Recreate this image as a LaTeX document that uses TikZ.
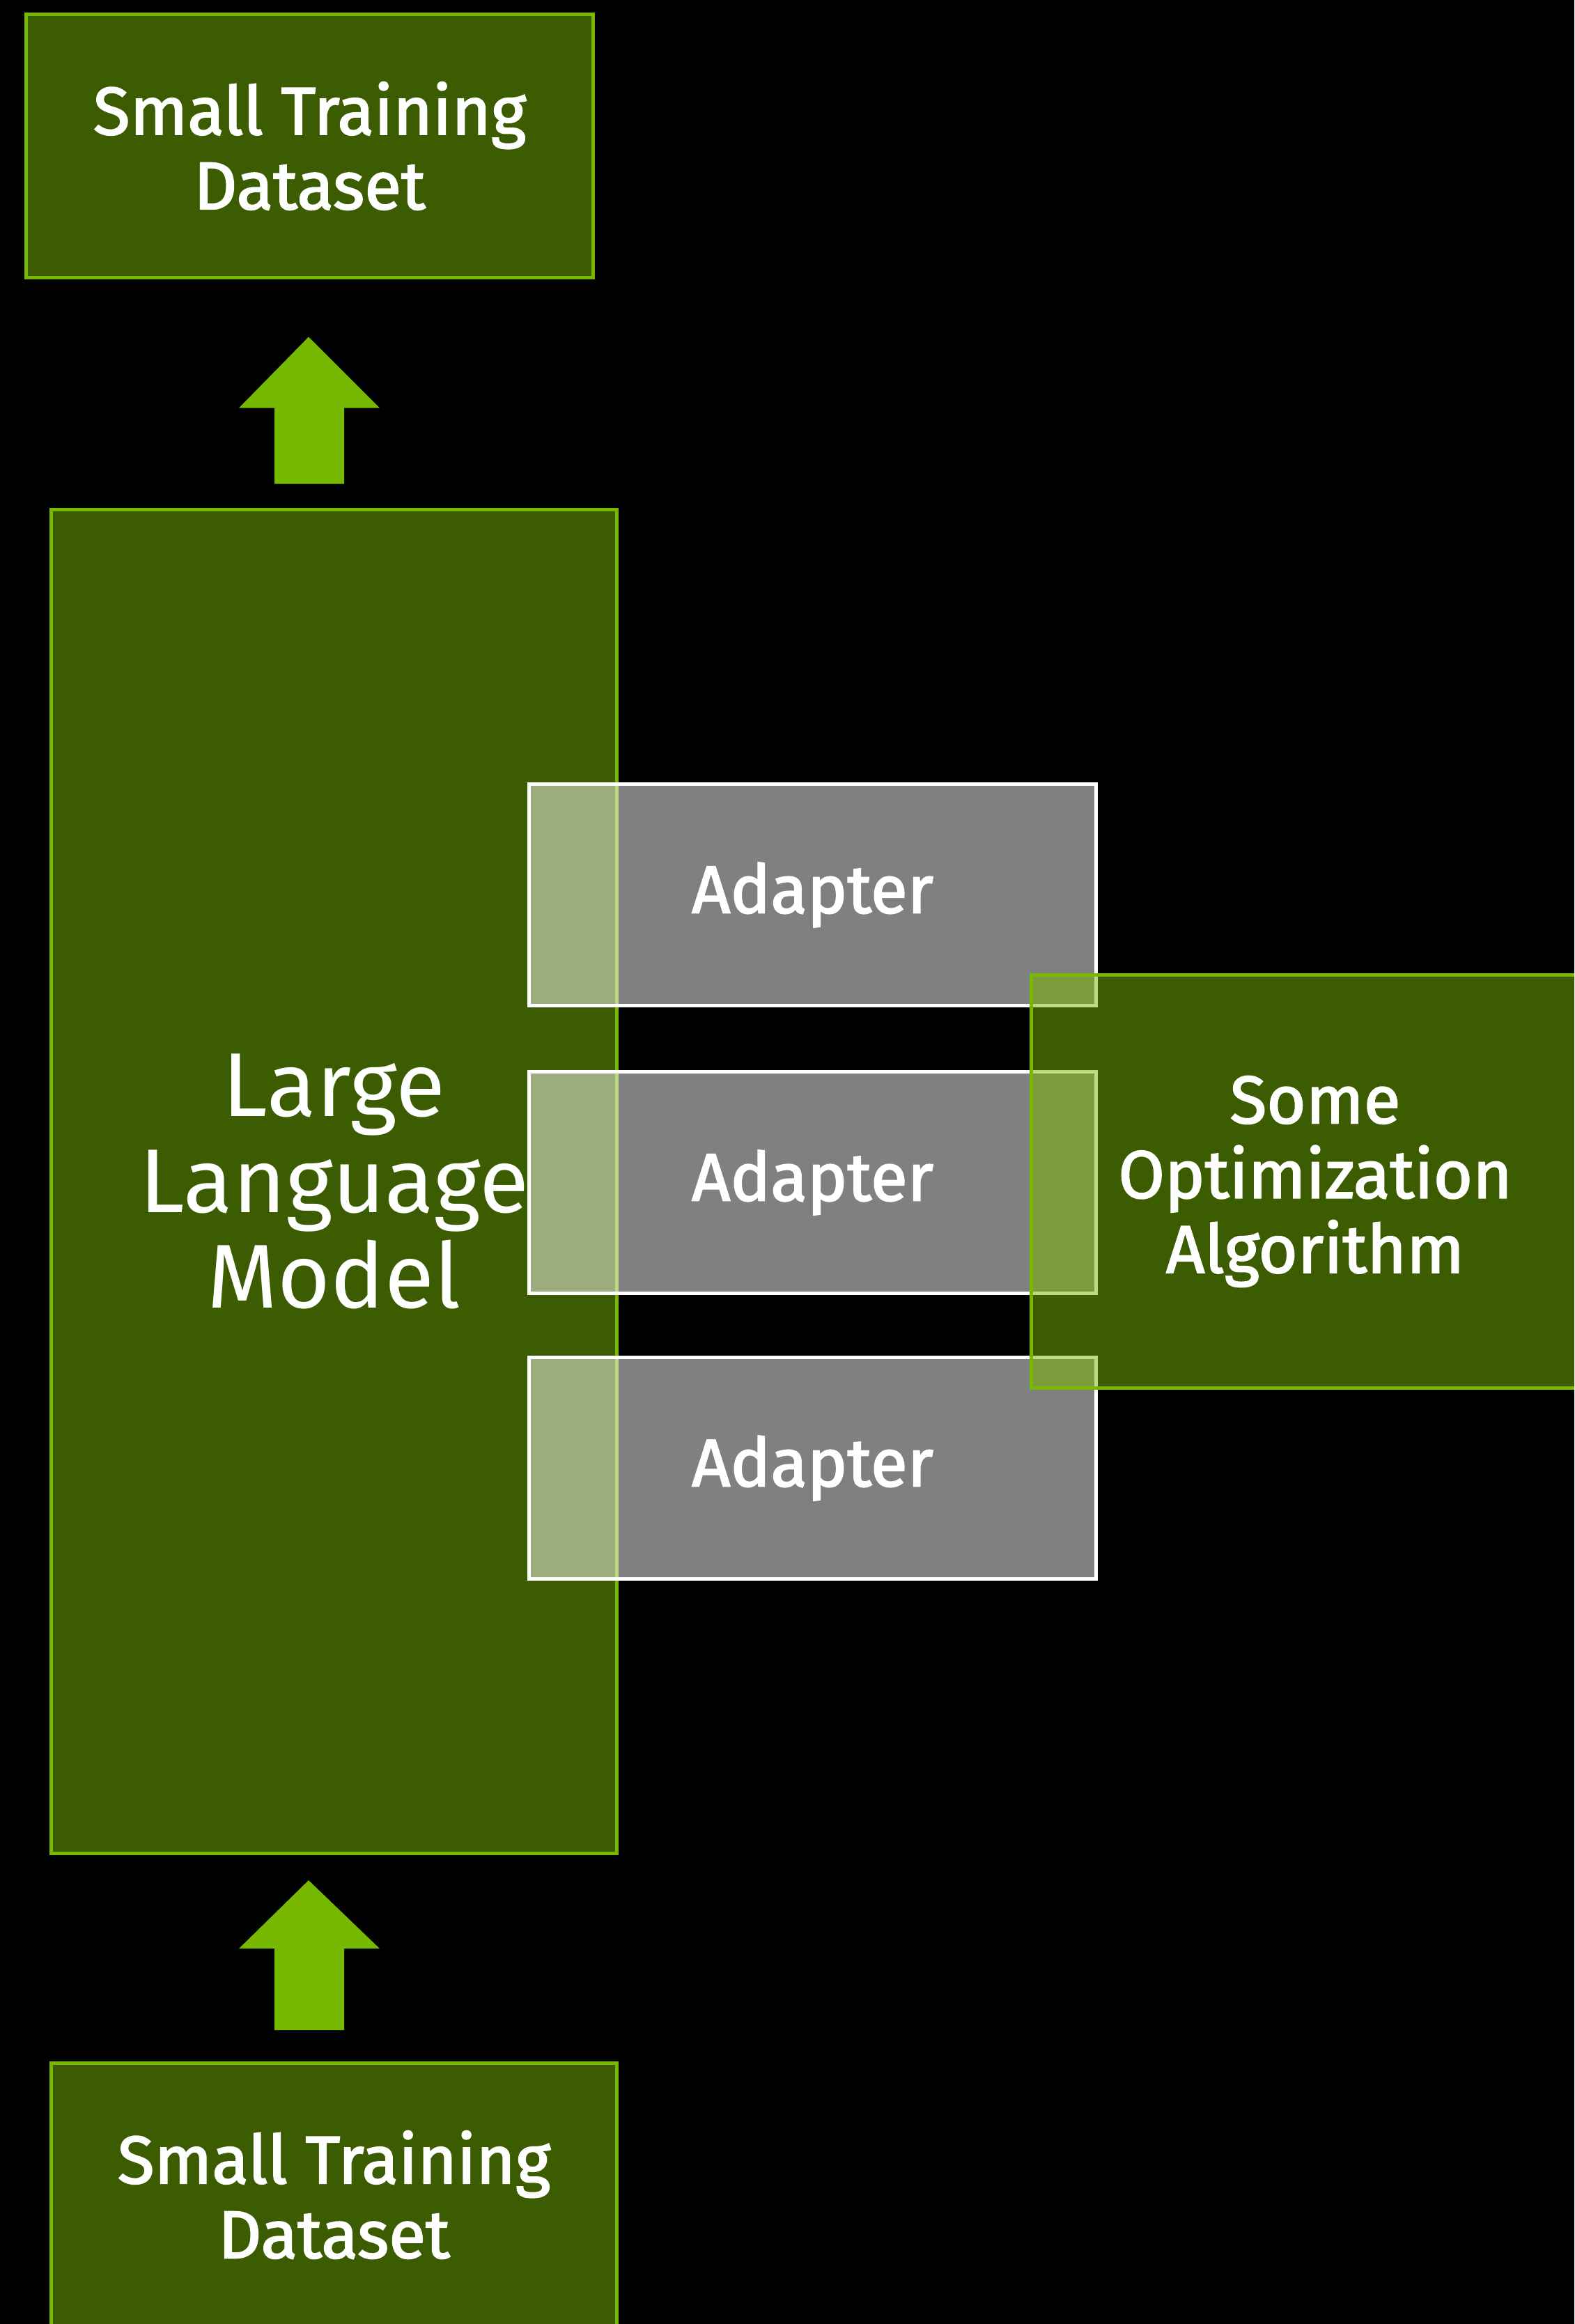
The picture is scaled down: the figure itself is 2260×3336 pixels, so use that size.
\documentclass[tikz,border=0pt]{standalone}
\usepackage{fontspec}
\setmainfont{Fira Sans}
\newfontfamily\heavysans[FakeBold=2]{Fira Sans}
\usetikzlibrary{calc}
\definecolor{nvgreen}{HTML}{76B900}
\newcommand{\smalltxt}{\heavysans\fontsize{27.5}{30.5}\selectfont}
\newcommand{\bigtxt}{\fontsize{37}{39}\selectfont}
\begin{document}
\begin{tikzpicture}[x=0.01cm,y=-0.01cm,
  greenbox/.style={draw=nvgreen, line width=0.05cm, fill=nvgreen,
    fill opacity=0.5, draw opacity=1, text opacity=1, text=white,
    align=center, inner sep=0pt, anchor=center},
  adapterbox/.style={draw=white, line width=0.05cm, fill=white,
    fill opacity=0.5, draw opacity=1, text opacity=1, text=white,
    align=center, inner sep=0pt, anchor=center,
    minimum width=8.13cm, minimum height=3.17cm, font=\smalltxt},
  blockarrow/.style={fill=nvgreen}]

% page and background
\fill[black] (0,0) rectangle (2260,3336);
\useasboundingbox (0,0) rectangle (2260,3336);

\begin{scope}
\clip (0,0) rectangle (2260,3336);

% datasets and the model
\node[greenbox, minimum width=8.13cm, minimum height=3.77cm, font=\smalltxt]
  (topdata) at (444.5,209.5) {Small Training\\Dataset};
\node[greenbox, minimum width=8.11cm, minimum height=19.28cm, font=\bigtxt]
  (llm) at (479.5,1696) {Large\\Language\\Model};
\node[greenbox, minimum width=8.11cm, minimum height=3.77cm, font=\smalltxt]
  (botdata) at (479.5,3150.5) {Small Training\\Dataset};

% adapters
\node[adapterbox] (ad1) at (1166.5,1284.5) {Adapter};
\node[adapterbox] (ad2) at (1166.5,1697.5) {Adapter};
\node[adapterbox] (ad3) at (1166.5,2107.5) {Adapter};

% optimizer
\node[greenbox, minimum width=8.14cm, minimum height=5.92cm, font=\smalltxt]
  (opt) at (1888,1696) {Some\\Optimization\\Algorithm};

% block arrows
\coordinate (tipA) at ($(topdata.south)+(-1.5,83)$);
\fill[blockarrow] (tipA) -- ++(102,102) -- ++(-51,0) -- ++(0,109)
  -- ++(-100,0) -- ++(0,-109) -- ++(-51,0) -- cycle;
\coordinate (tipB) at ($(llm.south)+(-36.5,36)$);
\fill[blockarrow] (tipB) -- ++(102,98) -- ++(-51,0) -- ++(0,117)
  -- ++(-100,0) -- ++(0,-117) -- ++(-51,0) -- cycle;
\end{scope}
\end{tikzpicture}
\end{document}
